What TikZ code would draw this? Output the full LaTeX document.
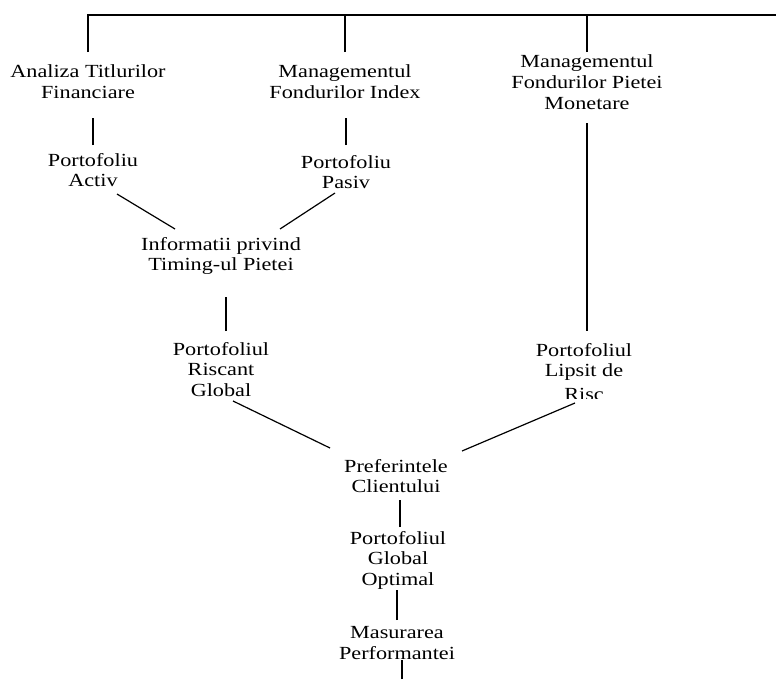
\documentclass[tikz,border=0pt]{standalone}
\usepackage{fontspec}
\setmainfont{Liberation Serif}[FakeStretch=1.2]
\begin{document}
\begin{tikzpicture}[x=1pt,y=-1pt,line width=1.2pt,
    eticheta/.style={align=center,anchor=north,inner sep=0pt,
        font=\fontsize{18.5}{20.7}\selectfont}]

    \useasboundingbox (0,0) rectangle (776,683);

    % Randul de sus
    \node[eticheta] (analiza) at (88,64.4) {Analiza Titlurilor\\Financiare};
    \node[eticheta] (index) at (345,64.4) {Managementul\\Fondurilor Index};
    \node[eticheta] (monetare) at (587,54.4) {Managementul\\Fondurilor Pietei\\Monetare};

    % Portofolii
    \node[eticheta] (activ) at (93,152.4) {Portofoliu\\Activ};
    \node[eticheta] (pasiv) at (346,154.4) {Portofoliu\\Pasiv};
    \node[eticheta] (timing) at (221,236.4) {Informatii privind\\Timing-ul Pietei};
    \node[eticheta] (riscant) at (221,341.4) {Portofoliul\\Riscant\\Global};
    \begin{scope}
        \clip (0,0) rectangle (776,398);
        \node[eticheta] (lipsit) at (584,342.4) {Portofoliul\\Lipsit de\\[3pt]Risc};
    \end{scope}

    % Partea de jos
    \node[eticheta] (pref) at (396,458.4) {Preferintele\\Clientului};
    \node[eticheta] (optimal) at (398,530.4) {Portofoliul\\Global\\Optimal};
    \node[eticheta] (masurare) at (397,625.8) {Masurarea\\Performantei};
    \coordinate (bara) at (776,15);
    \coordinate (jos) at (402,683);

    % Bara de sus
    \draw[shorten <=12.4pt] (analiza.north) |- (bara);
    \draw[shorten <=12.4pt] (index.north) -- (index.north |- bara);
    \draw[shorten <=2.4pt] (monetare.north) -- (monetare.north |- bara);

    % Legaturi
    \draw[shorten <=7.4pt, shorten >=19pt] (activ.north) -- (activ.north |- analiza.south);
    \draw[shorten <=9.4pt, shorten >=19pt] (pasiv.north) -- (pasiv.north |- index.south);
    \draw ([shift={(24,41.6)}]activ.north) -- ([shift={(-46,-7.4)}]timing.north);
    \draw ([shift={(-11,38.6)}]pasiv.north) -- ([shift={(59,-7.4)}]timing.north);
    \draw[shorten <=10.4pt, shorten >=22pt] ([shift={(5,0)}]riscant.north) -- ([shift={(5,0)}]riscant.north |- timing.south);
    \draw[shorten <=13pt, shorten >=11.4pt] (monetare.south) -- (monetare.south |- lipsit.north);
    \draw ([shift={(12,59.6)}]riscant.north) -- ([shift={(-66,-10.4)}]pref.north);
    \draw ([shift={(-9,60.6)}]lipsit.north) -- ([shift={(66,-7.4)}]pref.north);
    \draw[shorten <=3.4pt, shorten >=6pt] ([shift={(2,0)}]optimal.north) -- ([shift={(2,0)}]optimal.north |- pref.south);
    \draw[shorten <=5.8pt] (masurare.north) -- (masurare.north |- optimal.south);
    \draw[shorten <=4pt] (jos) -- (jos |- masurare.south);

\end{tikzpicture}
\end{document}
